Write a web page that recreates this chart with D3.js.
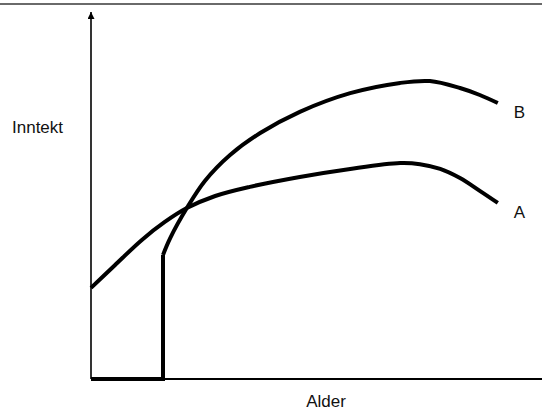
<!DOCTYPE html>
<html>
<head>
<meta charset="utf-8">
<script src="https://cdn.jsdelivr.net/npm/d3@7"></script>
<style>
  body { margin: 0; background: #fff; }
  text { font-family: "Liberation Sans", Arial, sans-serif; fill: #111; }
</style>
</head>
<body>
<div id="chart"></div>
<script>
// Declare constants
const FRAME_WIDTH = 542;
const FRAME_HEIGHT = 412;
const ORIGIN = {x: 91, y: 379};

// curve A: inntekt by alder (age units 0-100, income units 0-100)
const A_AGE    = [0, 5.3, 11.3, 16.4, 21.3, 27.6, 35.3, 46.4, 57.6, 68.7, 73.1, 77.6, 82.0, 86.4, 90.4];
const A_INCOME = [24.9, 31.1, 38.0, 42.9, 46.7, 50.0, 52.5, 55.2, 57.4, 59.0, 58.7, 57.4, 54.9, 51.4, 48.1];

// curve B: no income while studying, then a jump and steeper growth
const B_STEP_AGE    = [0, 16, 16];
const B_STEP_INCOME = [0, 0, 33.9];
const B_AGE    = [16, 17.6, 21.3, 25.3, 30.9, 37.6, 46.4, 57.6, 68.7, 75.3, 82.0, 86.4, 90.4];
const B_INCOME = [33.9, 38.5, 46.7, 54.1, 61.2, 67.2, 73.0, 78.1, 80.9, 81.4, 79.5, 77.6, 75.4];

const LABELS = ["A", "B"];

const svg = d3.select("#chart")
              .append("svg")
                .attr("width", FRAME_WIDTH)
                .attr("height", FRAME_HEIGHT);

// scales
const X_SCALE = d3.scaleLinear()
                  .domain([0, 100])
                  .range([ORIGIN.x, ORIGIN.x + 450]);

const Y_SCALE = d3.scaleLinear()
                  .domain([0, 100])
                  .range([ORIGIN.y, ORIGIN.y - 366]);

// top border line
svg.append("line")
    .attr("x1", 0).attr("x2", FRAME_WIDTH)
    .attr("y1", 4).attr("y2", 4)
    .attr("stroke", "#6a6a6a")
    .attr("stroke-width", 2);

// arrow marker for the y axis
svg.append("defs").append("marker")
    .attr("id", "arrow")
    .attr("viewBox", "0 0 10 10")
    .attr("refX", 10).attr("refY", 5)
    .attr("markerWidth", 7).attr("markerHeight", 7)
    .attr("markerUnits", "userSpaceOnUse")
    .attr("orient", "auto")
  .append("path")
    .attr("d", "M0,0 L10,5 L0,10 Z")
    .attr("fill", "#000");

// axes
svg.append("line")
    .attr("x1", X_SCALE(0)).attr("x2", X_SCALE(0))
    .attr("y1", Y_SCALE(0)).attr("y2", 12)
    .attr("stroke", "#000")
    .attr("stroke-width", 1.6)
    .attr("marker-end", "url(#arrow)");

svg.append("line")
    .attr("x1", X_SCALE(0)).attr("x2", FRAME_WIDTH)
    .attr("y1", Y_SCALE(0)).attr("y2", Y_SCALE(0))
    .attr("stroke", "#000")
    .attr("stroke-width", 2);

// lines
const curve = d3.line()
                .x((d) => X_SCALE(d[0]))
                .y((d) => Y_SCALE(d[1]))
                .curve(d3.curveCatmullRom.alpha(0.5));

const straight = d3.line()
                   .x((d) => X_SCALE(d[0]))
                   .y((d) => Y_SCALE(d[1]));

svg.append("path")
    .datum(d3.zip(A_AGE, A_INCOME))
    .attr("d", curve)
    .attr("fill", "none")
    .attr("stroke", "#000")
    .attr("stroke-width", 4);

svg.append("path")
    .datum(d3.zip(B_STEP_AGE, B_STEP_INCOME))
    .attr("d", straight)
    .attr("fill", "none")
    .attr("stroke", "#000")
    .attr("stroke-width", 4);

svg.append("path")
    .datum(d3.zip(B_AGE, B_INCOME))
    .attr("d", curve)
    .attr("fill", "none")
    .attr("stroke", "#000")
    .attr("stroke-width", 4);

// curve labels
const ends = [[A_AGE[A_AGE.length - 1], A_INCOME[A_INCOME.length - 1]],
              [B_AGE[B_AGE.length - 1], B_INCOME[B_INCOME.length - 1]]];

svg.selectAll(".curve-label")
    .data(LABELS)
    .enter()
    .append("text")
      .attr("class", "curve-label")
      .attr("x", (d, i) => X_SCALE(ends[i][0]) + 16)
      .attr("y", (d, i) => Y_SCALE(ends[i][1]) + 15)
      .attr("font-size", "17px")
      .text((d) => d);

// axis titles
svg.append("text")
    .attr("x", 12)
    .attr("y", 133)
    .attr("font-size", "17px")
    .text("Inntekt");

svg.append("text")
    .attr("x", 326)
    .attr("y", 407)
    .attr("text-anchor", "middle")
    .attr("font-size", "17px")
    .text("Alder");
</script>
</body>
</html>
